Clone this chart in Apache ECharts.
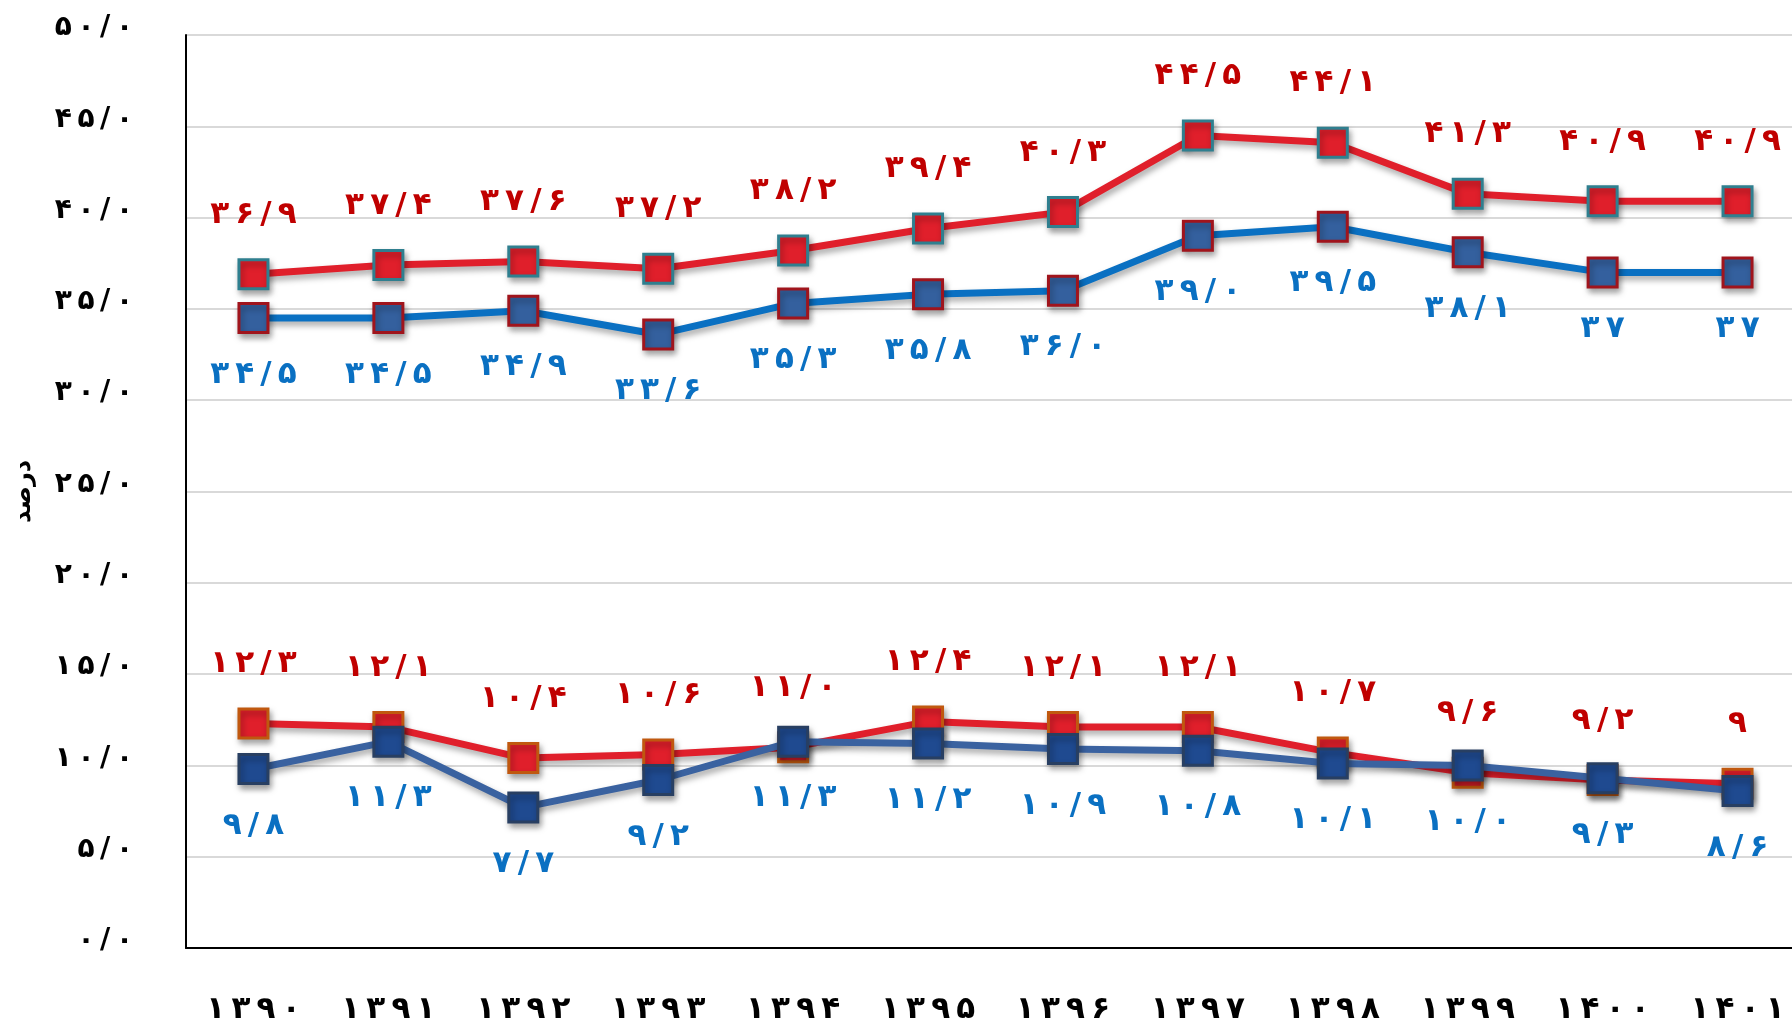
<!DOCTYPE html>
<html>
<head>
<meta charset="utf-8">
<script src="https://cdn.jsdelivr.net/npm/echarts@6/dist/echarts.min.js"></script>
<style>
html,body{margin:0;padding:0;background:#fff;overflow:hidden;width:1792px;height:1023px;}
#chart{width:1805px;height:1023px;}
</style>
</head>
<body>
<div id="chart"></div>
<script>
const years = ['1390','1391','1392','1393','1394','1395','1396','1397','1398','1399','1400','1401'];
const upperRed = ['36.9','37.4','37.6','37.2','38.2','39.4','40.3','44.5','44.1','41.3','40.9','40.9'];
const upperBlue = ['34.5','34.5','34.9','33.6','35.3','35.8','36.0','39.0','39.5','38.1','37','37'];
const lowerRed = ['12.3','12.1','10.4','10.6','11.0','12.4','12.1','12.1','10.7','9.6','9.2','9'];
const lowerBlue = ['9.8','11.3','7.7','9.2','11.3','11.2','10.9','10.8','10.1','10.0','9.3','8.6'];
const yMin = 0, yMax = 50, yStep = 5;
const yName = 'درصد';

const FA = '۰۱۲۳۴۵۶۷۸۹';
function toFa(s) {
  const chars = String(s).replace(/[0-9]/g, d => FA[+d]).replace('.', '/').split('');
  return chars.join('\u200E\u2009\u200E');
}
const FONT = "'DejaVu Sans'";
const shadow = {shadowColor:'rgba(0,0,0,0.35)', shadowBlur:6, shadowOffsetY:4, shadowOffsetX:2};

function series(name, arr, lineColor, fill, border, labelColor, pos, dist, z) {
  return {
    name, type:'line', data: arr.map(Number), z,
    symbol:'rect', symbolSize:29,
    lineStyle:Object.assign({color:lineColor, width:7}, shadow),
    itemStyle:Object.assign({color:fill, borderColor:border, borderWidth:3}, shadow),
    label:{show:true, position:pos, distance:dist, color:labelColor, fontFamily:FONT, fontWeight:'bold', fontSize:31,
      formatter:p => toFa(arr[p.dataIndex])},
    emphasis:{disabled:true}, animation:false
  };
}

const chart = echarts.init(document.getElementById('chart'));
chart.setOption({
  animation:false,
  grid:{left:186, top:35, right:0, height:913, outerBoundsMode:'none', containLabel:false},
  xAxis:{type:'category', data:years, boundaryGap:true,
    axisLine:{lineStyle:{color:'#000', width:2}}, axisTick:{show:false},
    axisLabel:{color:'#000', fontFamily:FONT, fontWeight:'bold', fontSize:31, margin:46, formatter:v => toFa(v)}},
  yAxis:{type:'value', min:yMin, max:yMax, interval:yStep,
    name:yName, nameLocation:'middle', nameGap:150, nameRotate:90,
    nameTextStyle:{color:'#000', fontFamily:FONT, fontWeight:'bold', fontSize:24},
    axisLine:{show:true, lineStyle:{color:'#000', width:2}}, axisTick:{show:false},
    splitLine:{lineStyle:{color:'#d9d9d9', width:2}},
    axisLabel:{color:'#000', fontFamily:FONT, fontWeight:'bold', fontSize:28, margin:53,
      verticalAlign:'bottom', lineHeight:14,
      formatter:v => toFa(v.toFixed(1))}},
  series:[
    series('upperBlue', upperBlue, '#0a70c2', '#34609e', '#a0141c', '#0a70c2', 'bottom', 25, 2),
    series('upperRed', upperRed, '#e01f2b', '#e01f2b', '#2f7f8f', '#c00000', 'top', 28, 3),
    series('lowerRed', lowerRed, '#e01f2b', '#e01f2b', '#c0580f', '#c00000', 'top', 28, 3),
    series('lowerBlue', lowerBlue, '#3a62a0', '#1f4a90', '#283f62', '#0a70c2', 'bottom', 25, 4)
  ]
});
</script>
</body>
</html>
